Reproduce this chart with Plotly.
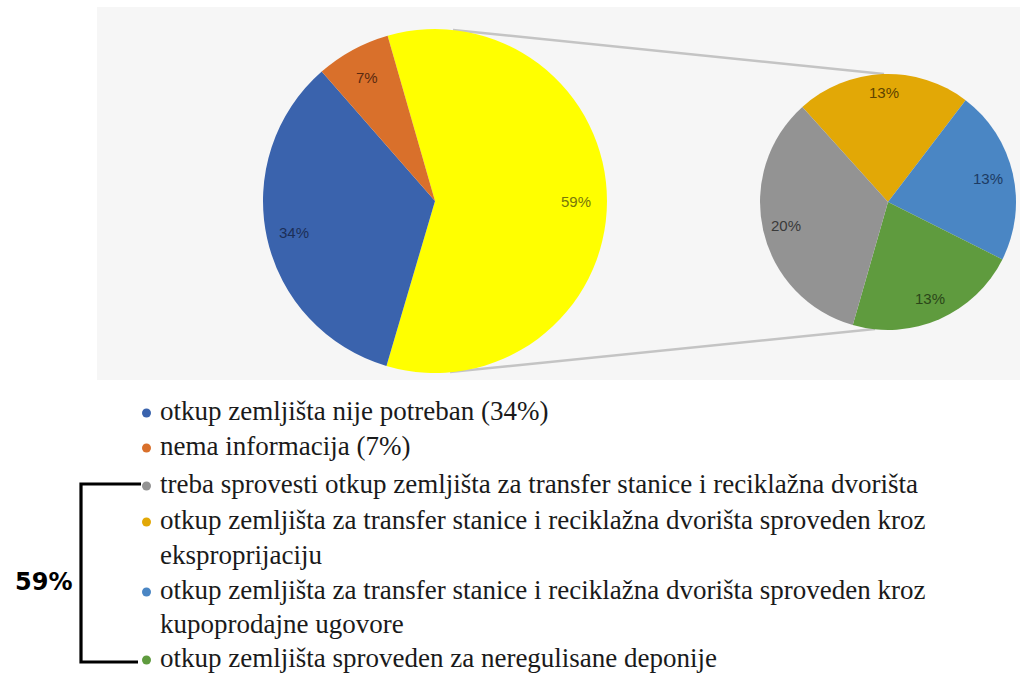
import math
import plotly.graph_objects as go

# ---------------- data ----------------
main_labels = ["ostalo (59%)", "otkup zemljišta nije potreban (34%)", "nema informacija (7%)"]
main_values = [59, 34, 7]
main_colors = ["#ffff00", "#3a63ad", "#d9702b"]
main_text_colors = ["#77770a", "#1c2f58", "#5a2a10"]

sub_labels = [
    "otkup zemljišta za transfer stanice i reciklažna dvorišta sproveden kroz eksproprijaciju",
    "otkup zemljišta za transfer stanice i reciklažna dvorišta sproveden kroz kupoprodajne ugovore",
    "otkup zemljišta sproveden za neregulisane deponije",
    "treba sprovesti otkup zemljišta za transfer stanice i reciklažna dvorišta",
]
sub_values = [13, 13, 13, 20]
sub_colors = ["#e2a806", "#4a86c4", "#5f9b3e", "#939393"]
sub_text_colors = ["#5e4300", "#1d3b63", "#2b4619", "#3a3a3a"]

legend_lines = [
    ["otkup zemljišta nije potreban (34%)"],
    ["nema informacija (7%)"],
    ["treba sprovesti otkup zemljišta za transfer stanice i reciklažna dvorišta"],
    ["otkup zemljišta za transfer stanice i reciklažna dvorišta sproveden kroz", "eksproprijaciju"],
    ["otkup zemljišta za transfer stanice i reciklažna dvorišta sproveden kroz", "kupoprodajne ugovore"],
    ["otkup zemljišta sproveden za neregulisane deponije"],
]
legend_colors = ["#3a63ad", "#d9702b", "#939393", "#e2a806", "#4a86c4", "#5f9b3e"]
bracket_label = "59%"

# ---------------- layout helpers (pixels -> paper) ----------------
W, H = 1024, 675
def px(x):
    return x / W
def py(y):
    return 1 - y / H

main_c, main_r, main_rot = (435, 201), 172, -16
sub_c, sub_r, sub_rot = (888, 202), 128, -42

def dom(c, r):
    return dict(x=[px(c[0] - r), px(c[0] + r)], y=[py(c[1] + r), py(c[1] - r)])

fig = go.Figure()
fig.add_trace(go.Pie(
    labels=main_labels, values=main_values, sort=False, direction="clockwise",
    rotation=main_rot, marker=dict(colors=main_colors, line=dict(width=0)),
    textinfo="none", hoverinfo="label+percent", domain=dom(main_c, main_r),
    showlegend=False))
fig.add_trace(go.Pie(
    labels=sub_labels, values=sub_values, sort=False, direction="clockwise",
    rotation=sub_rot, marker=dict(colors=sub_colors, line=dict(width=0)),
    textinfo="none", hoverinfo="label+value", domain=dom(sub_c, sub_r),
    showlegend=False))

annotations = []
def slice_labels(values, c, r, rot, colors, fracs, texts):
    tot = sum(values)
    ang = rot
    for v, col, t, frac in zip(values, colors, texts, fracs):
        span = 360 * v / tot
        mid = math.radians(ang + span / 2)
        x = c[0] + frac * r * math.sin(mid)
        y = c[1] - frac * r * math.cos(mid)
        annotations.append(dict(x=px(x), y=py(y), xref="paper", yref="paper", text=t,
                                showarrow=False, xanchor="center", yanchor="middle",
                                font=dict(family="Liberation Sans Narrow, Liberation Sans, Arial", size=15, color=col)))
        ang += span

slice_labels(main_values, main_c, main_r, main_rot, main_text_colors, [0.82, 0.84, 0.82],
             [f"{v}%" for v in main_values])
slice_labels(sub_values, sub_c, sub_r, sub_rot, sub_text_colors, [0.86, 0.8, 0.82, 0.82],
             [f"{v}%" for v in sub_values])

shapes = []
# gray background panel
shapes.append(dict(type="rect", xref="paper", yref="paper", x0=px(97), x1=px(1020),
                   y0=py(380), y1=py(7), fillcolor="#f6f6f6", line=dict(width=0), layer="below"))
# connector lines
shapes.append(dict(type="line", xref="paper", yref="paper", x0=px(453), y0=py(30),
                   x1=px(884), y1=py(74), line=dict(color="#c4c4c4", width=2.5), layer="below"))
shapes.append(dict(type="line", xref="paper", yref="paper", x0=px(450), y0=py(372),
                   x1=px(875), y1=py(329), line=dict(color="#c4c4c4", width=2.5), layer="below"))

# custom legend
first_y = [411, 446, 484, 520, 590, 658]
second_y = [None, None, None, 555, 624, None]
text_x = 158
serif = "Liberation Serif, Times New Roman, serif"
for lines, col, y1, y2 in zip(legend_lines, legend_colors, first_y, second_y):
    shapes.append(dict(type="circle", xref="paper", yref="paper",
                       x0=px(142), x1=px(151), y0=py(y1 + 6.5), y1=py(y1 - 2.5),
                       fillcolor=col, line=dict(width=0)))
    annotations.append(dict(x=px(text_x), y=py(y1), xref="paper", yref="paper", text=lines[0],
                            showarrow=False, xanchor="left", yanchor="middle",
                            font=dict(family=serif, size=27, color="#1a1a1a")))
    if len(lines) > 1:
        annotations.append(dict(x=px(text_x), y=py(y2), xref="paper", yref="paper", text=lines[1],
                                showarrow=False, xanchor="left", yanchor="middle",
                                font=dict(family=serif, size=27, color="#1a1a1a")))

# bracket
shapes.append(dict(type="path", xref="paper", yref="paper",
                   path=f"M {px(141)} {py(484)} L {px(81)} {py(484)} L {px(81)} {py(662)} L {px(138)} {py(662)}",
                   line=dict(color="#000000", width=3.2)))
annotations.append(dict(x=px(43), y=py(582), xref="paper", yref="paper", text=f"<b>{bracket_label}</b>",
                        showarrow=False, xanchor="center", yanchor="middle",
                        font=dict(family="DejaVu Sans, Verdana, sans-serif", size=24, color="#000000")))

fig.update_layout(width=W, height=H, margin=dict(l=0, r=0, t=0, b=0),
                  paper_bgcolor="#ffffff", plot_bgcolor="#ffffff",
                  shapes=shapes, annotations=annotations, showlegend=False)

fig.write_html("out.html", config={"displayModeBar": False},
               post_script="document.body.style.margin='0';document.body.style.overflow='hidden';")
